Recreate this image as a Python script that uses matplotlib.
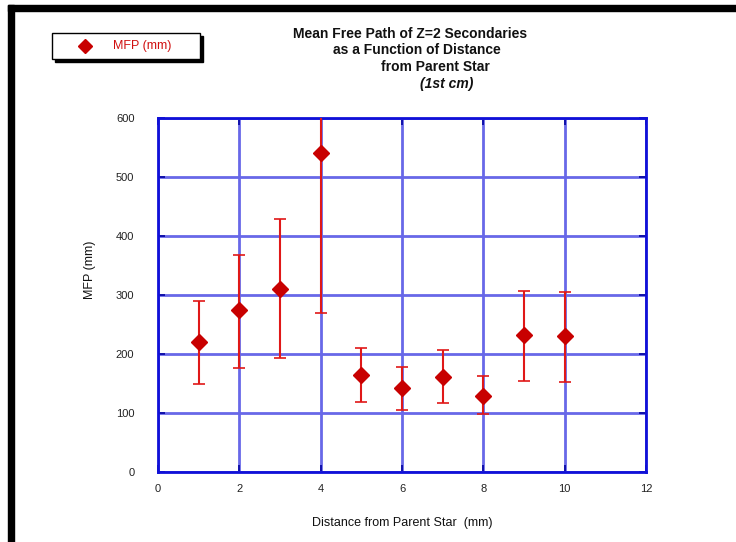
import matplotlib.pyplot as plt
from matplotlib.patches import Rectangle
from matplotlib.lines import Line2D

plt.rcParams['font.family'] = ['Liberation Sans', 'DejaVu Sans']

# Data
dist = [1, 2, 3, 4, 5, 6, 7, 8, 9, 10]
mfp = [220, 275, 310, 541, 164, 142, 161, 129, 232, 230]
mfp_hi = [290, 368, 429, 620, 210, 178, 207, 163, 307, 305]
mfp_lo = [149, 176, 193, 270, 119, 105, 117, 98, 154, 153]

xticks = [0, 2, 4, 6, 8, 10, 12]
yticks = [0, 100, 200, 300, 400, 500, 600]

W, H = 736, 542
fig = plt.figure(figsize=(W / 100, H / 100), dpi=100)

def fx(px):
    return px / W

def fy(py):
    return 1 - py / H

ax = fig.add_axes([fx(158), fy(472), fx(646) - fx(158), fy(118) - fy(472)])

yerr = [[m - l for m, l in zip(mfp, mfp_lo)], [h - m for m, h in zip(mfp, mfp_hi)]]
ax.errorbar(dist, mfp, yerr=yerr, fmt='none', ecolor='#e01818', elinewidth=1.5,
            capsize=4, capthick=1.2, zorder=3)
ax.plot(dist, mfp, linestyle='none', marker='D', markersize=8.5, color='#c80000',
        markeredgecolor='#c80000', zorder=4)

ax.set_xlim(0, 12)
ax.set_ylim(0, 600)
ax.set_xticks(xticks)
ax.set_yticks(yticks)
ax.grid(True, color='#6868e8', linewidth=2)
ax.set_axisbelow(True)
for s in ax.spines.values():
    s.set_color('#1010d8')
    s.set_linewidth(2)
ax.tick_params(direction='in', length=5, width=1.2, color='#0000a0',
               top=True, right=True, labelsize=8, labelcolor='#222222')
ax.tick_params(axis='y', pad=17)
ax.tick_params(axis='x', pad=9)

fig.text(0.5 * (fx(158) + fx(646)), fy(523), 'Distance from Parent Star  (mm)',
         ha='center', va='center', fontsize=9, color='#111111')
fig.text(fx(90), fy(270), 'MFP (mm)', rotation=90, ha='center', va='center',
         fontsize=9, color='#111111')

# title lines, each stepped to the right
title_lines = ['Mean Free Path of Z=2 Secondaries', 'as a Function of Distance',
               'from Parent Star', '(1st cm)']
title_x = [293, 333, 381, 420]
title_y = [34, 50, 67, 84]
for t, x, y in zip(title_lines, title_x, title_y):
    fig.text(fx(x), fy(y), t, ha='left', va='center', fontsize=10, fontweight='bold',
             style='italic' if t.startswith('(') else 'normal', color='#111111')

# black border bands at top and left
fig.patches.append(Rectangle((fx(8), fy(11)), 1 - fx(8), fy(5) - fy(11),
                             transform=fig.transFigure, color='black', zorder=0))
fig.patches.append(Rectangle((fx(8), 0), fx(14) - fx(8), fy(5),
                             transform=fig.transFigure, color='black', zorder=0))

# legend box with shadow
fig.patches.append(Rectangle((fx(55), fy(62)), fx(203) - fx(55), fy(36) - fy(62),
                             transform=fig.transFigure, facecolor='black',
                             edgecolor='black', zorder=5))
fig.patches.append(Rectangle((fx(52), fy(59)), fx(200) - fx(52), fy(33) - fy(59),
                             transform=fig.transFigure, facecolor='white',
                             edgecolor='black', linewidth=1, zorder=6))
fig.lines.append(Line2D([fx(85)], [fy(46)], transform=fig.transFigure, marker='D',
                        markersize=7.5, color='#c80000', zorder=7))
fig.text(fx(113), fy(46), 'MFP (mm)', ha='left', va='center', fontsize=9,
         color='#d01010', zorder=7)

fig.savefig('out.png', dpi=100)
